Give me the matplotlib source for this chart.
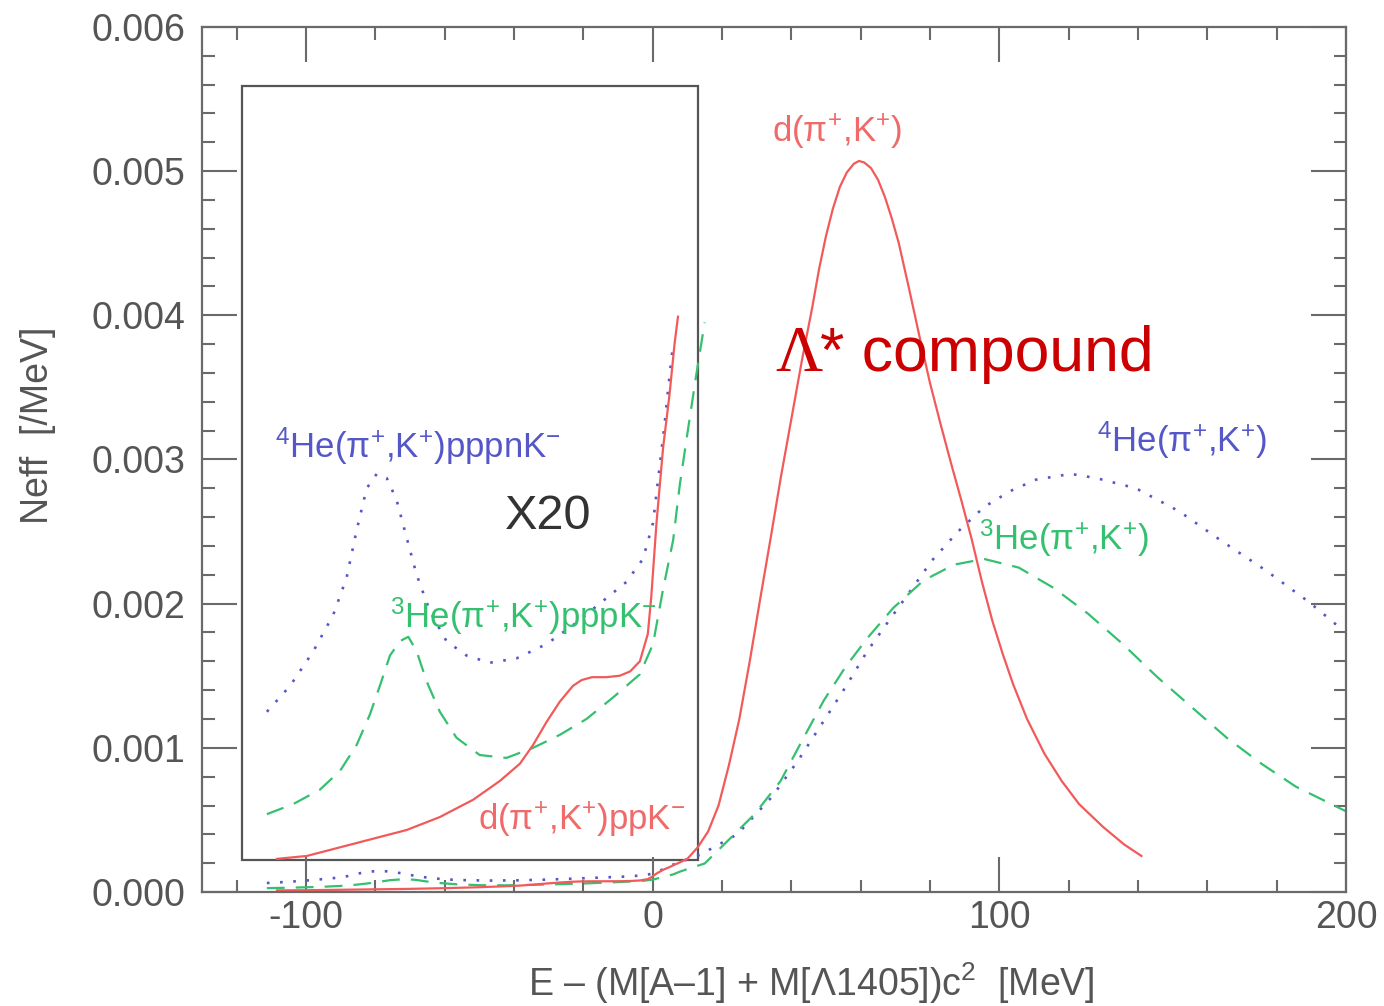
import matplotlib
matplotlib.use('Agg')
import matplotlib.pyplot as plt
from matplotlib import rcParams
from matplotlib.ticker import MultipleLocator, FormatStrFormatter
from matplotlib.patches import Rectangle
import numpy as np

# d(pi+,K+) : low-energy part, rest at full scale
red_low_x = [-108.4, -99.8, -90.2, -80.6, -71.0, -61.4, -51.8, -44.1, -38.3, -34.5, -30.6,
             -26.8, -23.0, -20.5, -17.5, -13.3, -9.5, -6.5, -3.7, -1.4, -0.4, 1.1, 3.0, 4.9,
             6.3, 7.3]
red_low_y20 = [0.00023, 0.00025, 0.00031, 0.00037, 0.00043, 0.00052, 0.00064, 0.00077, 0.00089,
               0.00102, 0.00118, 0.00132, 0.00143, 0.00147, 0.00149, 0.00149, 0.00150, 0.00153,
               0.00160, 0.00179, 0.00205, 0.00256, 0.00308, 0.00346, 0.00380, 0.00399]
red_hi_x = [10, 13, 16, 19, 22, 25, 28, 31, 34, 37, 40, 43, 46, 48, 50, 52, 54, 56, 58, 59.5,
            61, 63, 65, 67, 69, 71, 74, 77, 80, 83, 86, 89, 92, 95, 98, 101, 104, 108, 113, 118,
            123, 130, 136, 141]
red_hi_y = [0.00023, 0.00031, 0.00042, 0.0006, 0.00088, 0.0012, 0.0016, 0.00203, 0.00245,
            0.00288, 0.00328, 0.00368, 0.00405, 0.00432, 0.00455, 0.00474, 0.00489, 0.00499,
            0.00505, 0.00507, 0.00506, 0.00502, 0.00494, 0.00482, 0.00467, 0.0045, 0.00418,
            0.00385, 0.00353, 0.00325, 0.00298, 0.00272, 0.00245, 0.00215, 0.00188, 0.00165,
            0.00144, 0.0012, 0.00096, 0.00077, 0.00061, 0.00045, 0.00033, 0.00025]

# 4He(pi+,K+)
blue_low_x = [-111.3, -104.6, -97.9, -92.2, -88.3, -85.4, -82.5, -79.6, -76.7, -73.9, -71.0,
              -68.1, -64.3, -59.5, -53.7, -47.0, -39.3, -30.6, -23.0, -15.3, -7.6, -2.8, 0.1,
              2.0, 3.5, 4.9, 5.9]
blue_low_y20 = [0.00125, 0.00143, 0.00167, 0.00192, 0.00218, 0.00251, 0.0028, 0.0029, 0.00287,
                0.00272, 0.00246, 0.0022, 0.00195, 0.00174, 0.00164, 0.00159, 0.00162, 0.00172,
                0.00185, 0.002, 0.00215, 0.00231, 0.00256, 0.00295, 0.00326, 0.00359, 0.0038]
blue_hi_x = [13.8, 24.4, 34.4, 41.9, 48.1, 55.6, 61.9, 68.1, 74.4, 80.6, 88.1, 95.6, 103.1,
             110.6, 120.6, 128.1, 139.4, 151.9, 164.4, 176.9, 189.4, 199.4]
blue_hi_y = [0.00026, 0.0004, 0.00066, 0.00091, 0.00114, 0.00142, 0.00167, 0.00188, 0.00209,
             0.0023, 0.0025, 0.00267, 0.00278, 0.00286, 0.0029, 0.00287, 0.0028, 0.00264,
             0.00243, 0.00223, 0.00201, 0.00181]

# 3He(pi+,K+)
green_low_x = [-111.3, -103.7, -96.0, -90.2, -85.4, -81.6, -78.7, -75.8, -72.9, -70.5, -68.1,
               -65.2, -61.4, -56.6, -49.9, -42.2, -34.5, -26.8, -19.1, -11.4, -3.7, 0.1, 3.0,
               5.9, 7.8, 10.2, 12.6, 15.0]
green_low_y20 = [0.00054, 0.00061, 0.00071, 0.00084, 0.00102, 0.00123, 0.00143, 0.00164,
                 0.00174, 0.00177, 0.00167, 0.00146, 0.00125, 0.00107, 0.00095, 0.00093, 0.001,
                 0.00109, 0.0012, 0.00135, 0.00151, 0.00172, 0.0021, 0.00244, 0.00282, 0.00321,
                 0.00359, 0.00395]
green_hi_x = [20.6, 29.4, 36.9, 43.1, 49.4, 55.6, 61.9, 69.4, 78.1, 86.9, 95.6, 105.6, 115.6,
              125.6, 135.6, 145.6, 155.6, 165.6, 175.6, 185.6, 200]
green_hi_y = [0.00033, 0.00054, 0.00077, 0.00105, 0.00133, 0.00156, 0.00176, 0.00197, 0.00216,
              0.00227, 0.00231, 0.00225, 0.00211, 0.00193, 0.00172, 0.00149, 0.00128, 0.00107,
              0.00089, 0.00073, 0.00056]

SCALE = 20

rcParams['font.family'] = ['Liberation Sans', 'DejaVu Sans']
rcParams['mathtext.fontset'] = 'custom'
rcParams['mathtext.rm'] = 'Liberation Sans'
rcParams['mathtext.it'] = 'Liberation Sans'
rcParams['mathtext.sf'] = 'Liberation Sans'
rcParams['axes.unicode_minus'] = False

GRAY = '#6a6a6a'
TXT = '#555555'
RED = '#f25a5a'
BLUE = '#5557c8'
GREEN = '#35c070'

fig = plt.figure(figsize=(13.84, 10.06), dpi=100)
ax = fig.add_axes([0.146, 0.1133, 0.8265, 0.86])

def full_curve(lx, ly20, hx, hy):
    x = np.concatenate([lx, hx])
    y = np.concatenate([np.array(ly20) / SCALE, hy])
    return x, y

lw = 1.6
dots = (0, (1, 4))
dashes = (0, (8, 5))
rx, ry = full_curve(red_low_x, red_low_y20, red_hi_x, red_hi_y)
bx, by = full_curve(blue_low_x, blue_low_y20, blue_hi_x, blue_hi_y)
gx, gy = full_curve(green_low_x, green_low_y20, green_hi_x, green_hi_y)

ax.plot(bx, by, color=BLUE, lw=lw + 0.3, linestyle=dots)
ax.plot(gx, gy, color=GREEN, lw=lw, linestyle=dashes)
ax.plot(rx, ry, color=RED, lw=lw)

# x20 inset
ax.plot(blue_low_x, blue_low_y20, color=BLUE, lw=lw + 0.3, linestyle=dots)
ax.plot(green_low_x, green_low_y20, color=GREEN, lw=lw, linestyle=dashes)
ax.plot(red_low_x, red_low_y20, color=RED, lw=lw)
ax.add_patch(Rectangle((-118.4, 0.000222), 131.4, 0.005368, fill=False,
                       edgecolor='#555555', lw=1.6))

ax.set_xlim(-130, 200)
ax.set_ylim(0, 0.006)
ax.xaxis.set_major_locator(MultipleLocator(100))
ax.xaxis.set_minor_locator(MultipleLocator(20))
ax.yaxis.set_major_locator(MultipleLocator(0.001))
ax.yaxis.set_minor_locator(MultipleLocator(0.0002))
ax.yaxis.set_major_formatter(FormatStrFormatter('%.3f'))
ax.tick_params(which='both', direction='in', top=True, right=True, color=GRAY,
               labelcolor=TXT, labelsize=27, width=1.5)
ax.tick_params(which='major', length=25)
ax.tick_params(which='minor', length=9)
ax.tick_params(axis='y', pad=12)
ax.tick_params(axis='x', pad=6)
for s in ax.spines.values():
    s.set_color(GRAY)
    s.set_linewidth(1.6)

ax.set_xlabel('E – (M[A–1] + M[Λ1405])c$^{2}$  [MeV]', fontsize=27, color=TXT)
ax.xaxis.set_label_coords(0.533, -0.079)
ax.set_ylabel('Neff  [/MeV]', fontsize=27, color=TXT)
ax.yaxis.set_label_coords(-0.128, 0.54)

fs = 25
ax.text(53.3, 0.00527, r'$\mathregular{d(\pi^{+}{,}K^{+})}$', color='#f06a6a', fontsize=fs,
        ha='center', va='center')
ax.text(128.2, 0.00305, r'$\mathregular{^{4}He(\pi^{+}{,}K^{+})}$', color=BLUE, fontsize=fs,
        va='baseline')
ax.text(94.2, 0.00237, r'$\mathregular{^{3}He(\pi^{+}{,}K^{+})}$', color=GREEN, fontsize=fs,
        va='baseline')
ax.text(-108.9, 0.00301, r'$\mathregular{^{4}He(\pi^{+}{,}K^{+})pppnK^{-}}$', color=BLUE,
        fontsize=fs, va='baseline')
ax.text(-75.8, 0.00183, r'$\mathregular{^{3}He(\pi^{+}{,}K^{+})pppK^{-}}$', color=GREEN,
        fontsize=fs, va='baseline')
ax.text(-50.4, 0.00043, r'$\mathregular{d(\pi^{+}{,}K^{+})ppK^{-}}$', color='#f06a6a',
        fontsize=fs, va='baseline')
ax.text(-42.7, 0.00252, 'X20', color='#333333', fontsize=35, va='baseline')

ax.text(35.4, 0.00361, 'Λ', family='Liberation Serif', color='#cc0000', fontsize=47,
        va='baseline')
ax.text(48.4, 0.00361, '* compound', color='#cc0000', fontsize=45, va='baseline')

fig.savefig('out.png', dpi=100)
